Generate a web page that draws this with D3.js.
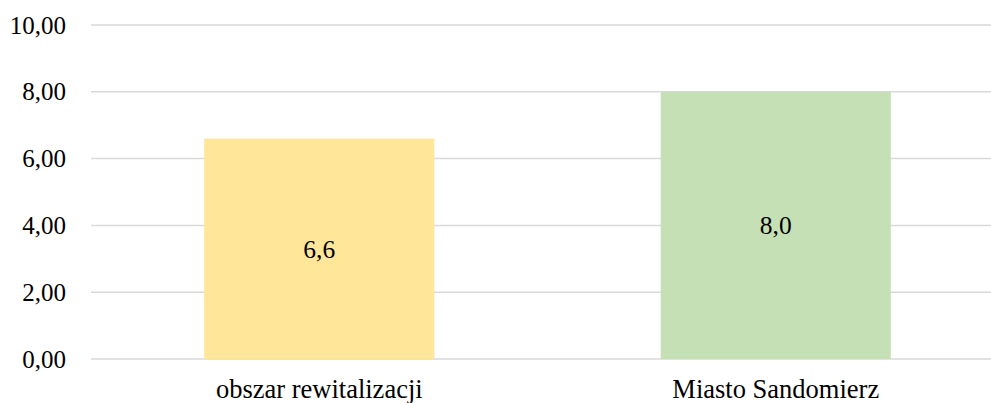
<!DOCTYPE html>
<html>
<head>
<meta charset="utf-8">
<script src="https://cdn.jsdelivr.net/npm/d3@7"></script>
<style>
  body { margin: 0; background: #fff; }
  svg text { font-family: "Liberation Serif", "DejaVu Serif", serif !important; fill: #000; }
</style>
</head>
<body>
<div id="chart-area"></div>
<script>
// dane
var categories = ["obszar rewitalizacji", "Miasto Sandomierz"];
var values = [6.6, 8.0];
var barColors = ["#ffe699", "#c5e0b4"];
var yTicks = [0, 2, 4, 6, 8, 10];

var margin = { left: 91, right: -13, top: 25, bottom: 44 };
var width = 991 - margin.left - margin.right,
    height = 403 - margin.top - margin.bottom;

var svg = d3.select("#chart-area")
  .append("svg")
    .attr("width", 991)
    .attr("height", 403);

var g = svg.append("g")
    .attr("transform", "translate(" + margin.left + "," + margin.top + ")");

var x = d3.scaleBand()
    .domain(categories)
    .range([0, width])
    .paddingInner(0.496)
    .paddingOuter(0.248);

var y = d3.scaleLinear()
    .domain([0, 10])
    .range([height, 0]);

// linie siatki
g.selectAll(".grid")
  .data(yTicks)
  .enter()
  .append("line")
    .attr("class", "grid")
    .attr("x1", 0)
    .attr("x2", 991 - margin.left)
    .attr("y1", function(d){ return y(d); })
    .attr("y2", function(d){ return y(d); })
    .attr("stroke", "#d9d9d9")
    .attr("stroke-width", 1.5);

// etykiety osi Y
var yAxis = d3.axisLeft(y)
    .tickValues(yTicks)
    .tickSize(0)
    .tickPadding(25)
    .tickFormat(function(d){ return d3.format(".2f")(d).replace(".", ","); });
g.append("g")
    .attr("class", "y axis")
    .call(yAxis)
    .call(function(a){ a.select(".domain").remove(); })
    .selectAll("text")
      .style("font-size", "25px");

// słupki
g.selectAll("rect")
  .data(values)
  .enter()
  .append("rect")
    .attr("x", function(d, i){ return x(categories[i]); })
    .attr("y", function(d){ return y(d); })
    .attr("width", x.bandwidth())
    .attr("height", function(d){ return height - y(d); })
    .attr("fill", function(d, i){ return barColors[i]; });

// etykiety danych
g.selectAll(".label")
  .data(values)
  .enter()
  .append("text")
    .attr("class", "label")
    .attr("x", function(d, i){ return x(categories[i]) + x.bandwidth() / 2; })
    .attr("y", function(d){ return (y(d) + height) / 2; })
    .attr("dy", "0.35em")
    .attr("text-anchor", "middle")
    .style("font-size", "25.5px")
    .text(function(d){ return d.toFixed(1).replace(".", ","); });

// oś X
var xAxis = d3.axisBottom(x).tickSize(0).tickPadding(20);
g.append("g")
    .attr("class", "x axis")
    .attr("transform", "translate(0," + height + ")")
    .call(xAxis)
    .call(function(a){ a.select(".domain").remove(); })
    .selectAll("text")
      .style("font-size", "26.5px");
</script>
</body>
</html>
